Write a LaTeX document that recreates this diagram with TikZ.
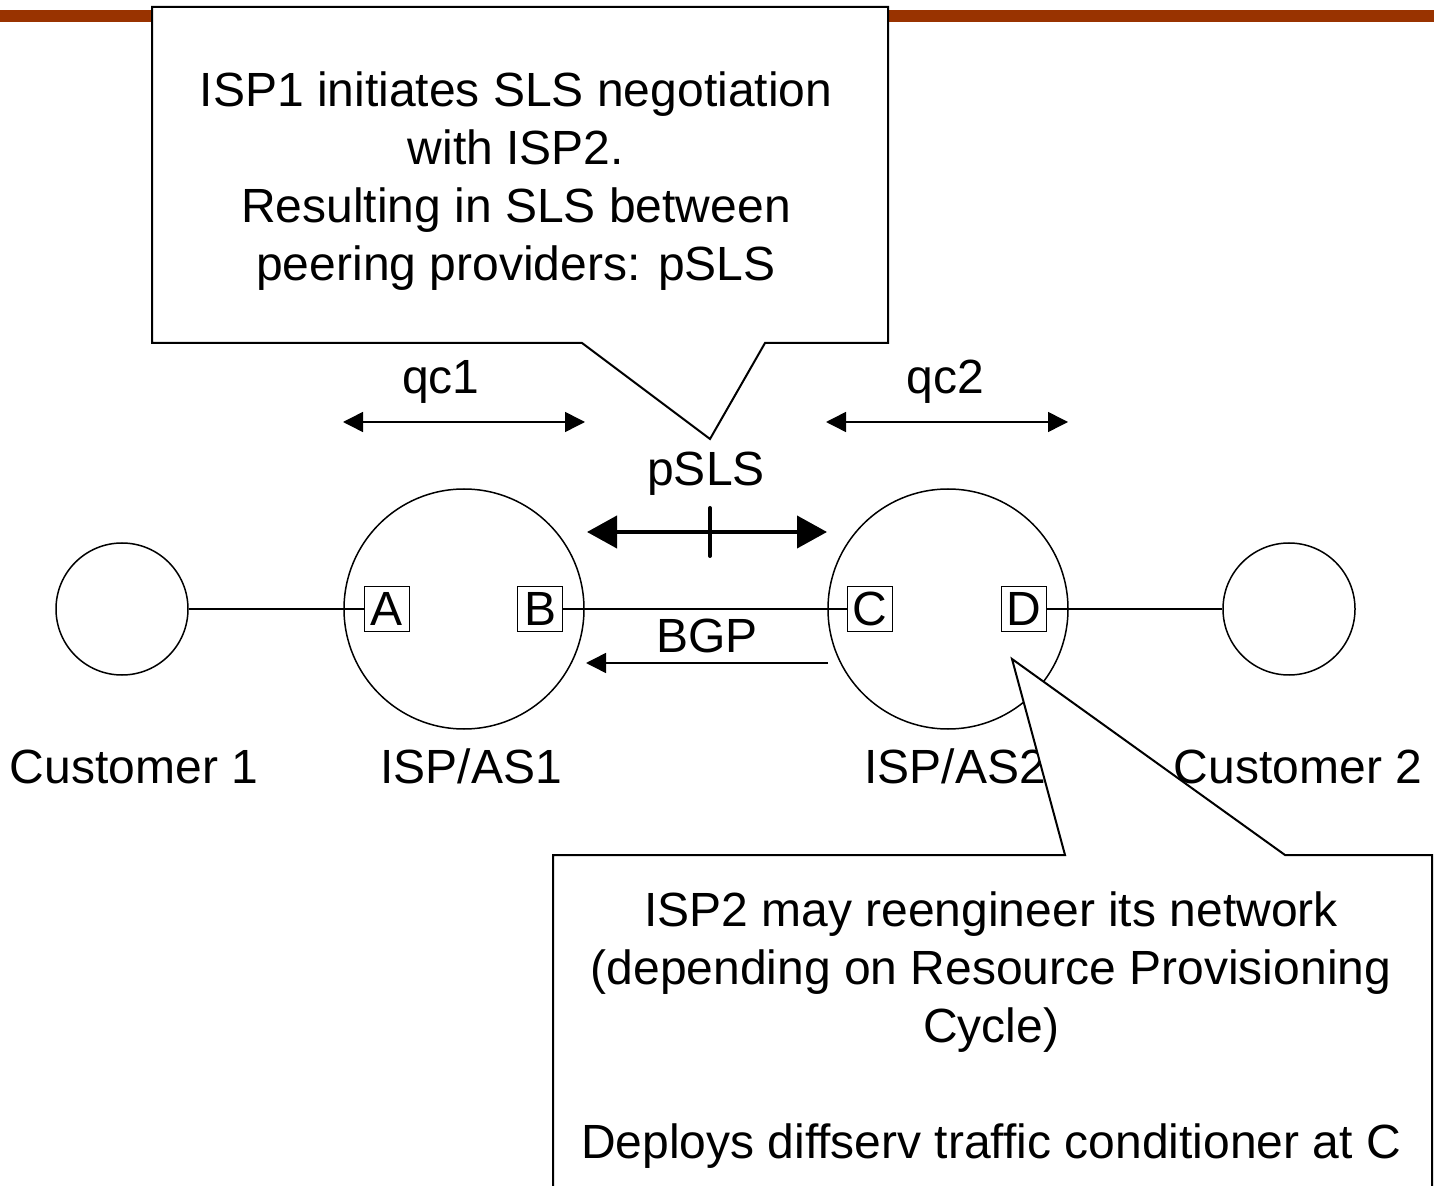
\documentclass[tikz,border=0pt]{standalone}
\usepackage{fontspec}
\setmainfont{Liberation Sans}
\usetikzlibrary{arrows.meta}
\definecolor{barred}{HTML}{993300}

\begin{document}
\begin{tikzpicture}[x=0.5pt, y=-0.5pt, every node/.style={font=\fontsize{24}{29}\selectfont, inner sep=0pt},
	site/.style={draw, circle, line width=0.75pt, minimum size=#1},
	port/.style={draw, line width=0.5pt, minimum size=22.5pt},
	qcarrow/.style={line width=0.75pt, {Triangle[length=10pt,width=10pt]}-{Triangle[length=10pt,width=10pt]}},
	balloon/.style={fill=white, line width=1pt}]
	\useasboundingbox (0,0) rectangle (1434,1186);
	\fill[barred] (0,10) rectangle (1434,22);
	% the four networks
	\node[site=66pt] (cust1) at (122,609) {};
	\node[site=120pt] (isp1) at (464,609) {};
	\node[site=120pt] (isp2) at (948,609) {};
	\node[site=66pt] (cust2) at (1289,609) {};
	\foreach \p/\x in {A/387, B/540, C/870, D/1024} {\node[port] (\p) at (\x,609) {\p};}
	\draw[line width=0.75pt] (cust1) -- (A) (B) -- (C) (D) -- (cust2);
	\foreach \n/\t/\x in {lcust1/Customer 1/134, lisp1/{ISP/AS1}/471, lisp2/{ISP/AS2}/955} {\node[anchor=base] (\n) at (\x,783) {\t};}
	% qc and pSLS arrows
	\foreach \n/\t/\x/\a/\b in {qc1/qc1/441/343/585, qc2/qc2/945/826/1068} {
		\node[anchor=base] (\n) at (\x,394) {\t};
		\coordinate (\n l) at (\a,422); \coordinate (\n r) at (\b,422);
		\draw[qcarrow] (\n l) -- (\n r);
	}
	\node[anchor=base] (psls) at (706,486) {pSLS};
	\coordinate (pslsl) at (587,532); \coordinate (pslsr) at (827,532);
	\draw[line width=2pt, {Triangle[length=15pt,width=16pt]}-{Triangle[length=15pt,width=16pt]}] (pslsl) -- (pslsr);
	\coordinate (tick) at (710,532);
	\draw[line width=2pt, line cap=round] ([yshift=12pt]tick) -- ([yshift=-12pt]tick);
	\node[anchor=base] (bgp) at (707,653) {BGP};
	\coordinate (bgpfrom) at (828,663); \coordinate (bgpto) at (586,663);
	\draw[line width=0.75pt, -{Triangle[length=10pt,width=10pt]}] (bgpfrom) -- (bgpto);
	% callouts
	\filldraw[balloon] (152,7) -- (888,7) -- (888,343) -- (765,343) -- (710,439) -- (582,343) -- (152,343) -- cycle;
	\node[align=center] (note1) at (516,181.5) {ISP1 initiates SLS negotiation\\with ISP2.\\Resulting in SLS between\\peering providers: pSLS};
	\filldraw[balloon] (553,1192) -- (553,855) -- (1065,855) -- (1012,659) -- (1285,855) -- (1432,855) -- (1432,1192);
	\node[align=center] (note2) at (991,1030.5) {ISP2 may reengineer its network\\(depending on Resource Provisioning\\Cycle)\\[29pt]Deploys diffserv traffic conditioner at C};
	\node[anchor=base] (lcust2) at (1298,783) {Customer 2};
\end{tikzpicture}
\end{document}
